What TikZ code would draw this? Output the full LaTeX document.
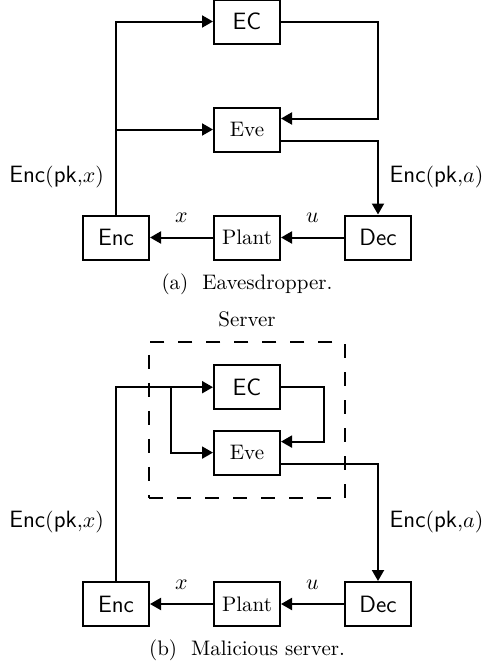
\documentclass[tikz,border=0pt]{standalone}
\usepackage{amsmath,amssymb}
\usepackage{tikz}
\usetikzlibrary{arrows.meta,positioning,fit}
\newcommand{\alg}[1]{\textsf{\fontsize{11.8}{13.5}\selectfont #1}}
\tikzset{
  block/.style={rectangle,draw,line width=1pt,align=center,minimum width=33pt,minimum height=22pt,inner sep=2pt},
  edge/.style={-{Triangle[length=5.5pt,width=6pt]},line width=1pt},
  server/.style={rectangle,draw,line width=1pt,dash pattern=on 7pt off 7pt,inner xsep=32pt,inner ysep=11pt},
  subcap/.style={align=center}
}

\begin{document}
\begin{tikzpicture}[node distance=31pt and 31.5pt,font=\fontsize{10.5}{12.6}\selectfont]
\useasboundingbox (0,0) rectangle (243.5pt,-334.5pt);
\node[block] (plantA) at (123.5pt,-118.75pt) {Plant};
\node[block,left=of plantA] (encA) {\alg{Enc}};
\node[block,right=of plantA] (decA) {\alg{Dec}};
\node[block,above=of plantA] (eveA) {Eve};
\node[block,above=of eveA] (ecA) {\alg{EC}};
\node[subcap,below=3pt of plantA] (capA) {(a)\hspace{7pt}Eavesdropper.};
\coordinate (jA) at (encA.north |- eveA.west);
\coordinate (inA) at ([yshift=5.5pt]eveA.east);
\coordinate (outA) at ([yshift=-5.5pt]eveA.east);
\draw[edge] (encA.north) |- (ecA.west);
\draw[edge] (jA) -- (eveA.west);
\draw[edge] (ecA.east) -| (decA.north |- inA) -- (inA);
\draw[edge] (outA) -| node[pos=0.75,right=2pt] (encaA) {$\alg{Enc}(\alg{pk}{,}a)$} (decA.north);
\node[left=2.5pt] (encxA) at (encA.north |- encaA.west) {$\alg{Enc}(\alg{pk}{,}x)$};
\draw[edge] (plantA) -- node[above=3.5pt] (xA) {$x$} (encA);
\draw[edge] (decA) -- node[above=3.5pt] (uA) {$u$} (plantA);

\node[block] (plantB) at (123.5pt,-302pt) {Plant};
\node[block,left=of plantB] (encB) {\alg{Enc}};
\node[block,right=of plantB] (decB) {\alg{Dec}};
\node[block,above=52.7pt of plantB] (eveB) {Eve};
\node[block,above=9.7pt of eveB] (ecB) {\alg{EC}};
\node[server,fit=(ecB)(eveB)] (srv) {};
\node[subcap,above=3.8pt of srv] (srvlbl) {Server};
\node[subcap,below=3pt of plantB] (capB) {(b)\hspace{7pt}Malicious server.};
\coordinate (jB) at ([xshift=-21pt]ecB.west);
\coordinate (inB) at ([yshift=5.5pt]eveB.east);
\coordinate (outB) at ([yshift=-5.5pt]eveB.east);
\draw[edge] (encB.north) |- (ecB.west);
\draw[edge] (jB) |- (eveB.west);
\draw[edge] (ecB.east) -| ([xshift=21.5pt]inB) -- (inB);
\draw[edge] (outB) -| node[pos=0.75,right=2pt] (encaB) {$\alg{Enc}(\alg{pk}{,}a)$} (decB.north);
\node[left=2.5pt] (encxB) at (encB.north |- encaB.west) {$\alg{Enc}(\alg{pk}{,}x)$};
\draw[edge] (plantB) -- node[above=3.5pt] (xB) {$x$} (encB);
\draw[edge] (decB) -- node[above=3.5pt] (uB) {$u$} (plantB);
\end{tikzpicture}
\end{document}
